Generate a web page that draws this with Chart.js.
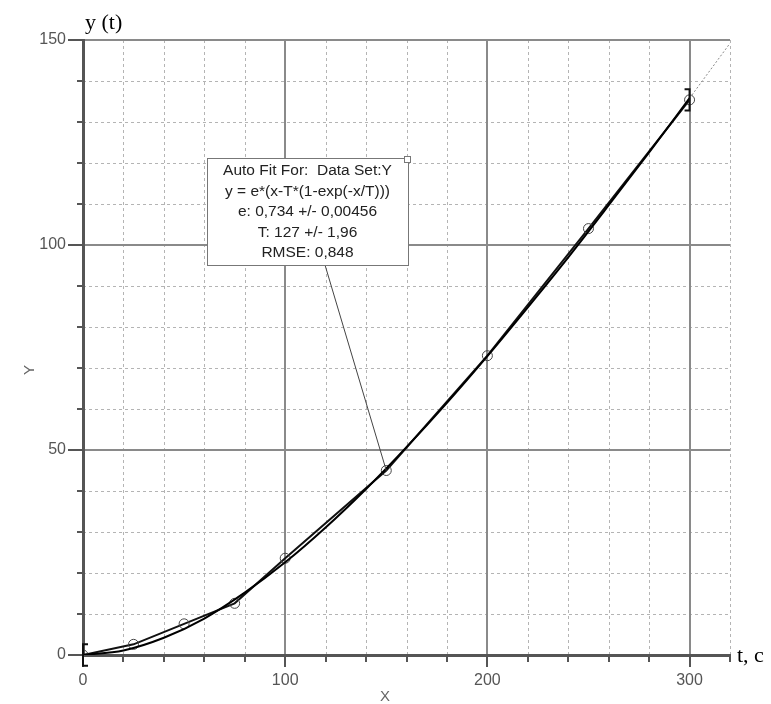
<!DOCTYPE html>
<html lang="en">
<head>
<meta charset="UTF-8">
<title>y(t) auto fit</title>
<script src="https://cdn.jsdelivr.net/npm/chart.js"></script>
<style>
  body { margin: 0; background: #fff; }
  canvas { display: block; }
</style>
</head>
<body>
<canvas id="chart" width="771" height="704"></canvas>
<script>
// measured points (circles)
const dataX = [0, 25, 50, 75, 100, 150, 200, 250, 300];
const dataY = [0, 2.6, 7.6, 12.6, 23.6, 45, 73, 104, 135.4];
// fitted curve
const fitX = [0, 20, 40, 60, 80, 100, 120, 140, 160, 180, 200, 220, 240, 260, 280, 300];
const fitY = [0, 1.1, 4.2, 8.9, 15.2, 22.6, 31.1, 40.5, 50.7, 61.5, 72.9, 84.8, 97.0, 109.7, 122.6, 135.8];
// dotted continuation past the fit range
const extX = [300, 320];
const extY = [135.8, 149.2];
const xLabels = [0, 100, 200, 300];
const yLabels = [0, 50, 100, 150];
const brackets = [[0, 0], [300, 135.4]];
const fitText = ['Auto Fit For:  Data Set:Y', 'y = e*(x-T*(1-exp(-x/T)))', 'e: 0,734 +/- 0,00456', 'T: 127 +/- 1,96', 'RMSE: 0,848'];
const fitAnchor = [150, 45];

const toPts = (xs, ys) => xs.map((x, i) => ({ x: x, y: ys[i] }));
const sans = '"Liberation Sans", Arial, sans-serif';

const minorGrid = {
  id: 'minorGrid',
  beforeDraw(chart) {
    const { ctx, chartArea: a, scales: { x, y } } = chart;
    ctx.save();
    ctx.strokeStyle = '#b4b4b4';
    ctx.lineWidth = 1;
    ctx.setLineDash([3, 3]);
    x.ticks.forEach(t => {
      if (xLabels.includes(t.value)) return;
      const px = Math.round(x.getPixelForValue(t.value)) + 0.5;
      ctx.beginPath(); ctx.moveTo(px, a.top); ctx.lineTo(px, a.bottom); ctx.stroke();
    });
    y.ticks.forEach(t => {
      if (yLabels.includes(t.value)) return;
      const py = Math.round(y.getPixelForValue(t.value)) + 0.5;
      ctx.beginPath(); ctx.moveTo(a.left, py); ctx.lineTo(a.right, py); ctx.stroke();
    });
    // short minor ticks
    ctx.setLineDash([]);
    ctx.strokeStyle = '#555';
    ctx.lineWidth = 2;
    x.ticks.forEach(t => {
      if (xLabels.includes(t.value)) return;
      const px = Math.round(x.getPixelForValue(t.value));
      ctx.beginPath(); ctx.moveTo(px, a.bottom); ctx.lineTo(px, a.bottom + 7); ctx.stroke();
    });
    y.ticks.forEach(t => {
      if (yLabels.includes(t.value)) return;
      const py = Math.round(y.getPixelForValue(t.value));
      ctx.beginPath(); ctx.moveTo(a.left - 6, py); ctx.lineTo(a.left, py); ctx.stroke();
    });
    ctx.restore();
  }
};

const extras = {
  id: 'extras',
  afterDraw(chart) {
    const { ctx, chartArea: a, scales: { x, y } } = chart;
    ctx.save();

    // fit range brackets
    ctx.strokeStyle = '#111';
    ctx.lineWidth = 2;
    brackets.forEach((b, i) => {
      const px = x.getPixelForValue(b[0]);
      const y1 = y.getPixelForValue(b[1] + 2.6);
      const y2 = y.getPixelForValue(b[1] - 2.6);
      const d = i === 0 ? 5 : -5;
      ctx.beginPath();
      ctx.moveTo(px + d, y1); ctx.lineTo(px, y1); ctx.lineTo(px, y2); ctx.lineTo(px + d, y2);
      ctx.stroke();
    });

    // annotation box + leader line
    const bx = a.left + 124, by = a.top + 118, bw = 201, bh = 107;
    ctx.strokeStyle = '#444';
    ctx.lineWidth = 1;
    ctx.beginPath();
    ctx.moveTo(bx + 118, by + bh);
    ctx.lineTo(x.getPixelForValue(fitAnchor[0]), y.getPixelForValue(fitAnchor[1]));
    ctx.stroke();

    ctx.fillStyle = '#fff';
    ctx.fillRect(bx, by, bw, bh);
    ctx.strokeStyle = '#777';
    ctx.strokeRect(bx + 0.5, by + 0.5, bw, bh);
    ctx.fillRect(bx + bw - 4, by - 2, 6, 6);
    ctx.strokeRect(bx + bw - 3.5, by - 1.5, 6, 6);

    ctx.fillStyle = '#222';
    ctx.font = '15.5px ' + sans;
    ctx.textAlign = 'center';
    ctx.textBaseline = 'middle';
    fitText.forEach((s, i) => ctx.fillText(s, bx + bw / 2, by + 13 + i * 20.5));

    // axis titles
    ctx.fillStyle = '#666';
    ctx.font = '15px ' + sans;
    ctx.fillText('X', 385, 697);
    ctx.save();
    ctx.translate(30, 370);
    ctx.rotate(-Math.PI / 2);
    ctx.fillText('Y', 0, 0);
    ctx.restore();

    ctx.fillStyle = '#000';
    ctx.font = '22px "Liberation Serif", "Times New Roman", serif';
    ctx.textAlign = 'left';
    ctx.textBaseline = 'alphabetic';
    ctx.fillText('y (t)', 85, 29);
    ctx.fillText('t, c', 737, 662);
    ctx.restore();
  }
};

new Chart(document.getElementById('chart').getContext('2d'), {
  type: 'line',
  data: {
    datasets: [
      {
        data: toPts(fitX, fitY),
        borderColor: '#000', borderWidth: 2, pointRadius: 0,
        cubicInterpolationMode: 'monotone'
      },
      {
        data: toPts(extX, extY),
        borderColor: '#888', borderWidth: 1, borderDash: [2, 2], pointRadius: 0
      },
      {
        data: toPts(dataX, dataY),
        borderColor: '#111', borderWidth: 2, tension: 0,
        pointRadius: 5, pointBackgroundColor: 'rgba(0,0,0,0)',
        pointBorderColor: '#444', pointBorderWidth: 1
      }
    ]
  },
  options: {
    responsive: false,
    animation: false,
    layout: { padding: { left: 0, right: 41, top: 40, bottom: 0 } },
    plugins: { legend: { display: false }, tooltip: { enabled: false } },
    scales: {
      x: {
        type: 'linear', min: 0, max: 320,
        afterFit: s => { s.height = 49; },
        ticks: {
          stepSize: 20, autoSkip: false, maxRotation: 0, padding: 4,
          color: '#555', font: { family: sans, size: 16 },
          callback: v => xLabels.includes(v) ? v : ''
        },
        grid: {
          color: c => c.tick && xLabels.includes(c.tick.value) ? '#8a8a8a' : 'rgba(0,0,0,0)',
          lineWidth: 2, tickLength: 12,
          tickColor: c => c.tick && xLabels.includes(c.tick.value) ? '#555' : 'rgba(0,0,0,0)'
        },
        border: { color: '#555', width: 3 }
      },
      y: {
        min: 0, max: 150,
        afterFit: s => { s.width = 83; },
        ticks: {
          stepSize: 10, autoSkip: false, padding: 2,
          color: '#555', font: { family: sans, size: 16 },
          callback: v => yLabels.includes(v) ? v : ''
        },
        grid: {
          color: c => c.tick && yLabels.includes(c.tick.value) ? '#8a8a8a' : 'rgba(0,0,0,0)',
          lineWidth: 2, tickLength: 15,
          tickColor: c => c.tick && yLabels.includes(c.tick.value) ? '#555' : 'rgba(0,0,0,0)'
        },
        border: { color: '#555', width: 3 }
      }
    }
  },
  plugins: [minorGrid, extras]
});
</script>
</body>
</html>
